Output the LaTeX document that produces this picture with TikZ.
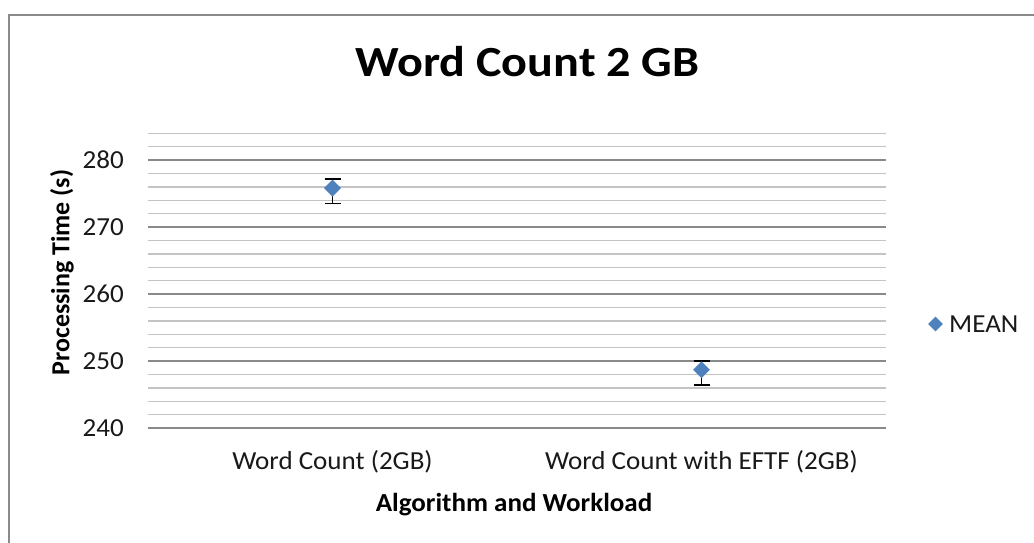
\documentclass[tikz,border=0pt]{standalone}
\usepackage{fontspec}
\setmainfont{Carlito}
\usetikzlibrary{shapes.geometric}
\definecolor{seriesblue}{HTML}{4F81BD}
\definecolor{majorgrid}{HTML}{898989}
\definecolor{minorgrid}{HTML}{C4C4C4}
\definecolor{framegray}{HTML}{8A8A8A}
% widen a label horizontally
\newcommand{\xstretch}[2]{\scalebox{#1}[1]{#2}}
\tikzset{
  axisfont/.style={font=\fontsize{26}{30}\selectfont, text=black!90},
  boldaxis/.style={font=\fontsize{26}{30}\selectfont\bfseries, text=black},
  titlefont/.style={font=\fontsize{43}{50}\selectfont\bfseries, text=black},
  meanmark/.style={diamond, fill=seriesblue, inner sep=0pt, minimum width=17pt, minimum height=17pt},
  legendmark/.style={diamond, fill=seriesblue, inner sep=0pt, minimum width=15pt, minimum height=15pt},
  errbar/.style={black, line width=1.4pt},
  minorline/.style={minorgrid, line width=1.4pt},
  majorline/.style={majorgrid, line width=1.4pt},
}
\begin{document}
\begin{tikzpicture}[x=1pt, y=-1pt]
  \useasboundingbox (0,0) rectangle (1034,542);
  \fill[white] (0,0) rectangle (1034,542);
  % chart frame
  \draw[framegray, line width=2.2pt] (9,545) -- (9,15) -- (1040,15);

  % title
  \node[titlefont, anchor=base] (title) at (527.5,76) {\xstretch{1.12}{Word Count 2 GB}};

  % horizontal grid: y = 428 - (v-240)*6.7
  \foreach \v in {242,244,...,284}{
    \pgfmathsetmacro{\yy}{428-(\v-240)*6.7}
    \pgfmathtruncatemacro{\isMajor}{mod(\v,10)==0 ? 1 : 0}
    \ifnum\isMajor=1
      \draw[majorline] (148,\yy) -- (886,\yy);
    \else
      \draw[minorline] (148,\yy) -- (886,\yy);
    \fi
  }
  \draw[majorline] (148,428) -- (886,428);

  % tick labels
  \foreach \v in {240,250,260,270,280}{
    \pgfmathsetmacro{\yy}{428-(\v-240)*6.7}
    \node[axisfont, anchor=east, inner sep=0pt] (tick\v) at (124,\yy) {\xstretch{1.04}{\v}};
  }

  % axis titles
  \node[boldaxis, rotate=90] (ylabel) at (62,272.5) {Processing Time (s)};
  \node[axisfont, anchor=base] (cat1) at (332.5,469) {\xstretch{1.04}{Word Count (2GB)}};
  \node[axisfont, anchor=base] (cat2) at (701.5,469) {\xstretch{1.04}{Word Count with EFTF (2GB)}};
  \node[boldaxis, anchor=base] (xlabel) at (514,511) {\xstretch{1.04}{Algorithm and Workload}};

  % error bars
  \coordinate (e1t) at (332.5,178.8);
  \coordinate (e1b) at (332.5,203.5);
  \coordinate (e2t) at (701.5,361);
  \coordinate (e2b) at (701.5,385.1);
  \draw[errbar] (e1t) -- (e1b);
  \draw[errbar] ([xshift=-8pt]e1t) -- ([xshift=8pt]e1t);
  \draw[errbar] ([xshift=-8pt]e1b) -- ([xshift=8pt]e1b);
  \draw[errbar] (e2t) -- (e2b);
  \draw[errbar] ([xshift=-8pt]e2t) -- ([xshift=8pt]e2t);
  \draw[errbar] ([xshift=-8pt]e2b) -- ([xshift=8pt]e2b);

  % mean markers
  \node[meanmark] (m1) at (332.5,188.1) {};
  \node[meanmark] (m2) at (701.5,369.7) {};

  % legend
  \node[legendmark] (legmark) at (935.5,324) {};
  \node[axisfont, anchor=west, inner sep=0pt] (legtext) at (949,324) {\xstretch{1.04}{MEAN}};
\end{tikzpicture}
\end{document}
